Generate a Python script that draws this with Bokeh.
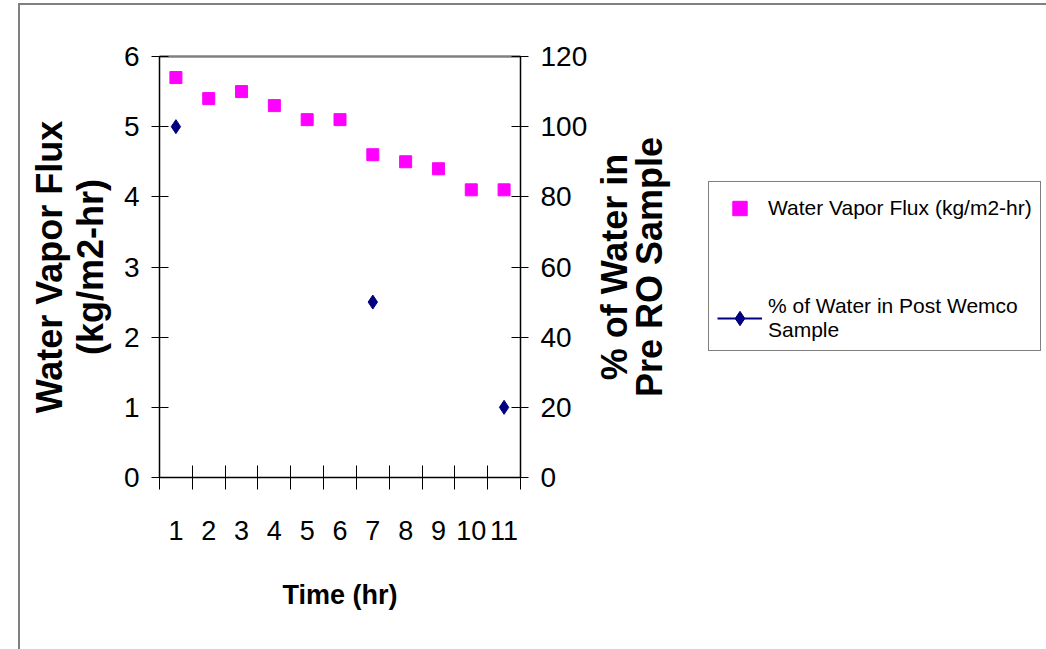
import math
from bokeh.plotting import figure
from bokeh.layouts import row
from bokeh.models import (LinearAxis, Range1d, FixedTicker, Legend, LegendItem,
                          ColumnDataSource)
from bokeh.embed import file_html
from bokeh.resources import INLINE

# ---- data ----
hours = [1, 2, 3, 4, 5, 6, 7, 8, 9, 10, 11]
flux = [5.7, 5.4, 5.5, 5.3, 5.1, 5.1, 4.6, 4.5, 4.4, 4.1, 4.1]
water_pct = [100, math.nan, math.nan, math.nan, math.nan, math.nan, 50,
             math.nan, math.nan, math.nan, 20]
left_ticks = [0, 1, 2, 3, 4, 5, 6]
right_ticks = [0, 20, 40, 60, 80, 100, 120]
flux_label = "Water Vapor Flux (kg/m2-hr)"
pct_label = "% of Water in Post Wemco\nSample"
x_title = "Time (hr)"
left_title_lines = ["Water Vapor Flux", "(kg/m2-hr)"]
right_title_lines = ["% of Water in", "Pre RO Sample"]

FONT = "'Liberation Sans', Arial, sans-serif"
MAGENTA = "#FF00FF"
NAVY = "#000080"

boundaries = [h - 0.5 for h in hours] + [hours[-1] + 0.5]
src = ColumnDataSource(dict(x=hours, flux=flux, pct=water_pct))

OX, OY = 20, 5      # page border offset
W_A = 570           # main chart width
H = 649 - OY
FRAME_L, FRAME_R, FRAME_T, FRAME_B = 159, 522, 56, 477
B_FRAME_L = 672


def title_axis(text, standoff):
    return LinearAxis(ticker=FixedTicker(ticks=[]), axis_line_color=None,
                      major_tick_line_color=None, minor_tick_line_color=None,
                      major_tick_in=0, major_tick_out=0, major_label_standoff=0,
                      axis_label=text, axis_label_text_font=FONT,
                      axis_label_text_font_style="bold",
                      axis_label_text_font_size="36px",
                      axis_label_text_color="black", axis_label_standoff=standoff)


# ---------------- main chart ----------------
p = figure(width=W_A, height=H,
           x_range=Range1d(boundaries[0], boundaries[-1]),
           y_range=Range1d(left_ticks[0], left_ticks[-1]),
           output_backend="svg", toolbar_location=None,
           min_border_left=FRAME_L - OX, min_border_right=OX + W_A - FRAME_R,
           min_border_top=FRAME_T - OY, min_border_bottom=649 - FRAME_B)
p.extra_y_ranges = {"pct": Range1d(right_ticks[0], right_ticks[-1])}
p.xgrid.visible = False
p.ygrid.visible = False
p.outline_line_color = None

p.scatter("x", "flux", source=src, marker="square", size=12,
          fill_color=MAGENTA, line_color=MAGENTA)
p.line("x", "pct", source=src, y_range_name="pct", line_color=NAVY, line_width=2)
p.scatter("x", "pct", source=src, y_range_name="pct", marker="diamond",
          size=14, fill_color=NAVY, line_color=NAVY)

ax = p.xaxis[0]
ax.ticker = FixedTicker(ticks=hours, minor_ticks=boundaries)
ax.major_tick_in = 0
ax.major_tick_out = 0
ax.major_tick_line_color = None
ax.minor_tick_in = 12
ax.minor_tick_out = 12
ax.minor_tick_line_color = "black"
ax.axis_line_color = "black"
ax.axis_line_width = 1.5
ax.major_label_standoff = 31
ax.major_label_text_font = FONT
ax.major_label_text_font_size = "27px"
ax.major_label_text_color = "black"
ax.axis_label = x_title
ax.axis_label_text_font = FONT
ax.axis_label_text_font_style = "bold"
ax.axis_label_text_font_size = "27px"
ax.axis_label_text_color = "black"
ax.axis_label_standoff = 37

ay = p.yaxis[0]
ay.ticker = FixedTicker(ticks=left_ticks)
ay.major_tick_in = 9
ay.major_tick_out = 8
ay.minor_tick_line_color = None
ay.major_label_standoff = 12
ay.major_label_text_font = FONT
ay.major_label_text_font_size = "28px"
ay.major_label_text_color = "black"
ay.axis_line_color = "black"
ay.axis_line_width = 1.5
ay.axis_label = left_title_lines[1]
ay.axis_label_text_font = FONT
ay.axis_label_text_font_style = "bold"
ay.axis_label_text_font_size = "36px"
ay.axis_label_text_color = "black"
ay.axis_label_standoff = 10
p.add_layout(title_axis(left_title_lines[0], -3), "left")

ar = LinearAxis(y_range_name="pct", ticker=FixedTicker(ticks=right_ticks),
                major_tick_in=9, major_tick_out=8, minor_tick_line_color=None,
                major_label_standoff=12, major_label_text_font=FONT,
                major_label_text_font_size="28px", major_label_text_color="black",
                axis_line_color="black", axis_line_width=1.5)
p.add_layout(ar, "right")

at = LinearAxis(ticker=FixedTicker(ticks=[]), axis_line_color="#808080",
                axis_line_width=2.5, major_tick_line_color=None,
                minor_tick_line_color=None)
p.add_layout(at, "above")

# ---------------- right part: right-axis title + legend ----------------
W_B = 1046 - OX - W_A
q = figure(width=W_B, height=H, x_range=p.x_range,
           y_range=Range1d(right_ticks[0], right_ticks[-1]),
           x_axis_location=None, y_axis_location=None,
           output_backend="svg", toolbar_location=None,
           min_border_left=B_FRAME_L - (OX + W_A), min_border_right=0,
           min_border_top=FRAME_T - OY, min_border_bottom=649 - FRAME_B)
q.xgrid.visible = False
q.ygrid.visible = False
q.outline_line_color = None

q.add_layout(title_axis(right_title_lines[1], 3), "left")
q.add_layout(title_axis(right_title_lines[0], -9), "left")

l_flux = q.scatter("x", "flux", source=src, marker="square", size=12,
                   fill_color=MAGENTA, line_color=MAGENTA, visible=False)
l_line = q.line("x", "pct", source=src, line_color=NAVY, line_width=2, visible=False)
l_pct = q.scatter("x", "pct", source=src, marker="diamond", size=14,
                  fill_color=NAVY, line_color=NAVY, visible=False)

legend = Legend(items=[LegendItem(label=flux_label, renderers=[l_flux]),
                       LegendItem(label=pct_label, renderers=[l_line, l_pct])],
                location=(708 - B_FRAME_L, 126), padding=8, spacing=68, margin=0,
                glyph_width=45, glyph_height=36, label_standoff=6,
                label_text_font=FONT, label_text_font_size="21px",
                label_text_color="black", border_line_color="black",
                border_line_width=1.5, background_fill_color="white",
                background_fill_alpha=1)
q.add_layout(legend, "center")

layout = row(p, q, spacing=0)
layout.margin = (OY - 2, 0, 0, OX - 2)
layout.styles = {"border-left": "2px solid #808080", "border-top": "2px solid #808080"}

open("out.html", "w").write(file_html(layout, INLINE))
